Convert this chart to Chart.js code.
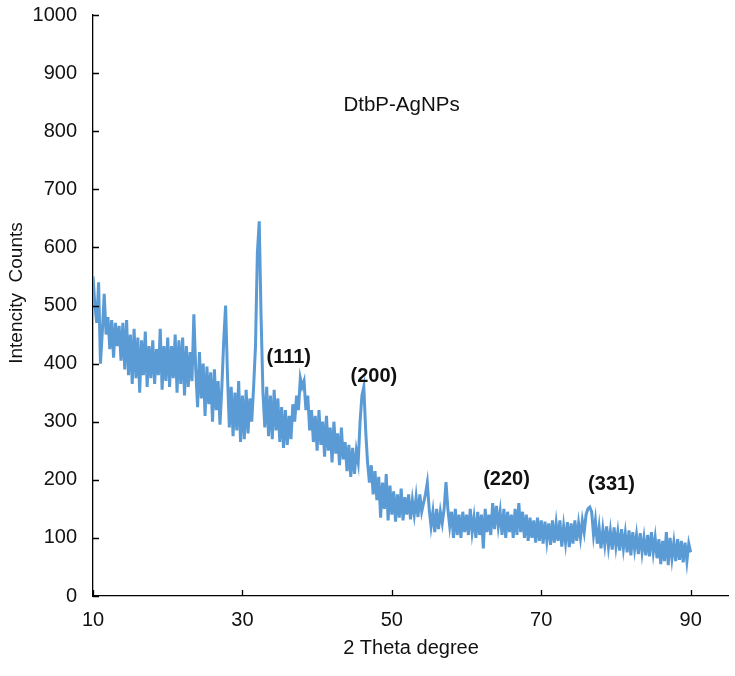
<!DOCTYPE html>
<html>
<head>
<meta charset="utf-8">
<script src="https://cdn.jsdelivr.net/npm/chart.js@4.4.1/dist/chart.umd.min.js"></script>
<style>
  html, body { margin: 0; padding: 0; background: #fff; }
  canvas { display: block; }
</style>
</head>
<body>
<canvas id="xrd" width="735" height="676"></canvas>
<script>
// --- datos del difractograma (leídos a ojo de la figura) ---
// paso de 0.25 grados, 8 valores por línea = 2 grados
const angleStart = 10;
const angleStep  = 0.25;

const counts10to30 = [
    550, 500, 470, 540, 400, 455, 520, 450,
    480, 425, 475, 410, 470, 430, 465, 405,
    470, 390, 475, 380, 450, 365, 460, 375,
    445, 350, 440, 380, 455, 360, 430, 375,
    440, 365, 425, 380, 460, 355, 430, 370,
    445, 360, 430, 375, 450, 350, 440, 365,
    445, 345, 430, 360, 420, 370, 485, 390,
    325, 420, 340, 400, 310, 395, 330, 385,
    300, 390, 320, 370, 295, 360, 440, 500,
    380, 290, 360, 275, 350, 285, 370, 265
];

const counts30to50 = [
    345, 270, 355, 280, 340, 300, 360, 430,
    590, 645, 480, 350, 290, 360, 275, 345,
    270, 355, 285, 340, 265, 325, 255, 320,
    260, 310, 270, 330, 300, 345, 320, 375,
    360, 370, 320, 345, 285, 320, 265, 310,
    250, 320, 260, 300, 240, 310, 250, 290,
    230, 300, 245, 280, 225, 290, 235, 265,
    215, 260, 205, 255, 210, 250, 230, 300,
    345, 360, 285, 230, 195, 225, 175, 215,
    165, 205, 135, 195, 150, 210, 130, 190
];

const counts50to70 = [
    140, 180, 128, 175, 135, 185, 130, 170,
    140, 175, 132, 165, 140, 170, 136, 175,
    145, 160, 175, 195, 150, 120, 145, 110,
    150, 115, 145, 125, 150, 196, 150, 120,
    145, 100, 150, 105, 140, 100, 145, 110,
    140, 105, 150, 110, 135, 100, 145, 105,
    140,  82, 150, 110, 140, 105, 160, 115,
    155, 120, 145, 105, 150, 100, 145, 110,
    140, 100, 150, 105, 160, 110, 145, 100,
    140,  95, 135, 100, 130,  92, 135,  95
];

const counts70to90 = [
    130,  90, 128,  95, 125,  88, 130,  92,
    125,  95, 130,  85, 120,  92, 127,  84,
    125,  90, 130,  95, 125, 100, 130, 110,
    140, 150, 153, 145, 105, 130,  90, 118,
     82, 115,  88, 120,  85, 112,  80, 118,
     85, 110,  78, 115,  82, 108,  75, 113,
     70, 110,  80, 105,  72, 108,  75, 100,
     70, 105,  68, 110,  75, 100,  65,  98,
     55,  95,  60, 110,  53, 100,  65,  92,
     60,  98,  62,  95,  58,  92,  60,  90,
     75
];

const xTickValues = [10, 30, 50, 70, 90];
const yTickValues = [0, 100, 200, 300, 400, 500, 600, 700, 800, 900, 1000];

// etiquetas de los picos: [2theta, cuentas, texto]
const peakLabels = [
    [36.2, 411, '(111)'],
    [47.6, 377, '(200)'],
    [65.35, 201, '(220)'],
    [79.4, 192, '(331)']
];
const sampleLabel = [51.3, 845, 'DtbP-AgNPs'];

const xTitle = '2 Theta degree';
const yTitle = 'Intencity  Counts';

// --- armado de los puntos ---
const allCounts = [...counts10to30, ...counts30to50, ...counts50to70, ...counts70to90];
const puntos = allCounts.map((c, i) => ({ x: angleStart + i * angleStep, y: c }));

const FONT = 'Liberation Sans, Arial, sans-serif';

// ticks hacia adentro + textos del gráfico
const extrasPlugin = {
    id: 'extras',
    afterDraw(chart) {
        const { ctx, chartArea, scales } = chart;
        const sx = scales.x, sy = scales.y;
        ctx.save();
        ctx.strokeStyle = '#000';
        ctx.lineWidth = 1.3;
        ctx.beginPath();
        yTickValues.forEach(v => {
            const py = Math.round(sy.getPixelForValue(v)) + 0.5;
            ctx.moveTo(chartArea.left, py);
            ctx.lineTo(chartArea.left + 6, py);
        });
        xTickValues.forEach(v => {
            const px = Math.round(sx.getPixelForValue(v)) + 0.5;
            ctx.moveTo(px, chartArea.bottom);
            ctx.lineTo(px, chartArea.bottom - 6);
        });
        ctx.stroke();

        ctx.fillStyle = '#111';
        ctx.textAlign = 'center';
        ctx.textBaseline = 'middle';

        ctx.font = '20.5px ' + FONT;
        ctx.fillText(sampleLabel[2], sx.getPixelForValue(sampleLabel[0]), sy.getPixelForValue(sampleLabel[1]));

        ctx.font = 'bold 20px ' + FONT;
        peakLabels.forEach(([a, c, t]) => {
            ctx.fillText(t, sx.getPixelForValue(a), sy.getPixelForValue(c));
        });

        // títulos de los ejes
        ctx.font = '20px ' + FONT;
        ctx.fillText(xTitle, 411, 648);
        ctx.translate(17, 293);
        ctx.rotate(-Math.PI / 2);
        ctx.font = '19px ' + FONT;
        ctx.fillText(yTitle, 0, 0);
        ctx.restore();
    }
};

new Chart(document.getElementById('xrd'), {
    type: 'line',
    data: {
        datasets: [{
            data: puntos,
            borderColor: '#5B9BD5',
            borderWidth: 3,
            borderJoinStyle: 'miter',
            pointRadius: 0,
            tension: 0,
            fill: false
        }]
    },
    options: {
        responsive: false,
        animation: false,
        parsing: false,
        layout: { padding: { top: 15, right: 7, left: 0, bottom: 0 } },
        plugins: { legend: { display: false }, tooltip: { enabled: false } },
        scales: {
            x: {
                type: 'linear',
                min: 10,
                max: 95,
                afterBuildTicks: s => { s.ticks = xTickValues.map(v => ({ value: v })); },
                afterFit: s => { s.height = 80; s.paddingLeft = 0; s.paddingRight = 0; },
                grid: { display: true, drawOnChartArea: false, drawTicks: false },
                border: { color: '#000', width: 1.3 },
                ticks: { color: '#111', font: { family: FONT, size: 20 }, padding: 12, maxRotation: 0 }
            },
            y: {
                min: 0,
                max: 1000,
                afterBuildTicks: s => { s.ticks = yTickValues.map(v => ({ value: v })); },
                afterFit: s => { s.width = 93; s.paddingTop = 0; s.paddingBottom = 0; },
                grid: { display: true, drawOnChartArea: false, drawTicks: false },
                border: { color: '#000', width: 1.3 },
                ticks: { color: '#111', font: { family: FONT, size: 20 }, padding: 16, callback: v => String(v) }
            }
        }
    },
    plugins: [extrasPlugin]
});
</script>
</body>
</html>
